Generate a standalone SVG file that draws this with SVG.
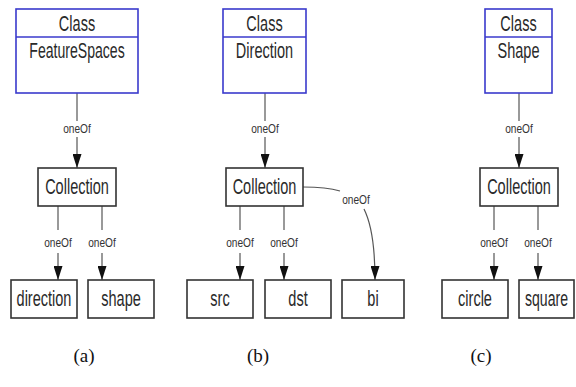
<svg xmlns="http://www.w3.org/2000/svg" width="576" height="387" viewBox="0 0 576 387">
<style>
.cls{fill:#fff;stroke:#3a3acc;stroke-width:1.6}
.box{fill:#fff;stroke:#333;stroke-width:1.6}
.t{font-family:"Liberation Sans",Arial,sans-serif;font-size:22px;fill:#2a2a2a;text-anchor:middle}
.e{font-family:"Liberation Sans",Arial,sans-serif;font-size:13px;fill:#333;text-anchor:middle}
.ln{fill:none;stroke:#555;stroke-width:1.2}
.cap{font-family:"Liberation Serif","Times New Roman",serif;font-size:19px;fill:#111;text-anchor:middle}
</style>
<defs>
<marker id="ah" markerUnits="userSpaceOnUse" markerWidth="14" markerHeight="9" refX="14" refY="4.5" orient="auto">
<path d="M0,0 L14,4.5 L0,9 z" fill="#111"/>
</marker>
</defs>
<rect width="576" height="387" fill="#fff"/>
<g id="connectors">
<line class="ln" x1="77" y1="93" x2="77" y2="121"/>
<line class="ln" x1="77" y1="137" x2="77" y2="168" marker-end="url(#ah)"/>
<line class="ln" x1="58" y1="206" x2="58" y2="230"/>
<line class="ln" x1="58" y1="253" x2="58" y2="280" marker-end="url(#ah)"/>
<line class="ln" x1="102" y1="206" x2="102" y2="230"/>
<line class="ln" x1="102" y1="253" x2="102" y2="280" marker-end="url(#ah)"/>
<line class="ln" x1="265" y1="93" x2="265" y2="121"/>
<line class="ln" x1="265" y1="137" x2="265" y2="168" marker-end="url(#ah)"/>
<line class="ln" x1="240" y1="206" x2="240" y2="230"/>
<line class="ln" x1="240" y1="253" x2="240" y2="280" marker-end="url(#ah)"/>
<line class="ln" x1="284" y1="206" x2="284" y2="230"/>
<line class="ln" x1="284" y1="253" x2="284" y2="280" marker-end="url(#ah)"/>
<path class="ln" d="M303,187 C318,187 330,188 340,191"/>
<path class="ln" d="M364,209 C372,225 375,248 375,280" marker-end="url(#ah)"/>
<line class="ln" x1="519" y1="93" x2="519" y2="121"/>
<line class="ln" x1="519" y1="137" x2="519" y2="168" marker-end="url(#ah)"/>
<line class="ln" x1="494" y1="206" x2="494" y2="230"/>
<line class="ln" x1="494" y1="253" x2="494" y2="280" marker-end="url(#ah)"/>
<line class="ln" x1="538" y1="206" x2="538" y2="230"/>
<line class="ln" x1="538" y1="253" x2="538" y2="280" marker-end="url(#ah)"/>
<text class="e" transform="translate(77,133) scale(0.78,1)">oneOf</text>
<text class="e" transform="translate(58,247) scale(0.78,1)">oneOf</text>
<text class="e" transform="translate(102,247) scale(0.78,1)">oneOf</text>
<text class="e" transform="translate(265,133) scale(0.78,1)">oneOf</text>
<text class="e" transform="translate(240,247) scale(0.78,1)">oneOf</text>
<text class="e" transform="translate(284,247) scale(0.78,1)">oneOf</text>
<text class="e" transform="translate(356,204) scale(0.78,1)">oneOf</text>
<text class="e" transform="translate(519,133) scale(0.78,1)">oneOf</text>
<text class="e" transform="translate(494,247) scale(0.78,1)">oneOf</text>
<text class="e" transform="translate(538,247) scale(0.78,1)">oneOf</text>
</g>
<g id="classFeatureSpaces">
<rect class="cls" x="16" y="9" width="122" height="84"/>
<line class="cls" x1="16" y1="37" x2="138" y2="37"/>
<text class="t" transform="translate(77,31) scale(0.66,1)">Class</text>
<text class="t" transform="translate(77,58) scale(0.64,1)">FeatureSpaces</text>
</g>
<g id="collectionA">
<rect class="box" x="38" y="168" width="78" height="38"/>
<text class="t" transform="translate(77,194) scale(0.66,1)">Collection</text>
</g>
<g id="direction">
<rect class="box" x="11" y="280" width="66" height="38"/>
<text class="t" transform="translate(44,306) scale(0.66,1)">direction</text>
</g>
<g id="shape">
<rect class="box" x="88" y="280" width="66" height="38"/>
<text class="t" transform="translate(121,306) scale(0.66,1)">shape</text>
</g>
<g id="classDirection">
<rect class="cls" x="223" y="9" width="83" height="84"/>
<line class="cls" x1="223" y1="37" x2="306" y2="37"/>
<text class="t" transform="translate(264.5,31) scale(0.66,1)">Class</text>
<text class="t" transform="translate(264.5,58) scale(0.66,1)">Direction</text>
</g>
<g id="collectionB">
<rect class="box" x="226" y="168" width="77" height="38"/>
<text class="t" transform="translate(264.5,194) scale(0.66,1)">Collection</text>
</g>
<g id="src">
<rect class="box" x="187" y="280" width="66" height="38"/>
<text class="t" transform="translate(220,306) scale(0.66,1)">src</text>
</g>
<g id="dst">
<rect class="box" x="265" y="280" width="66" height="38"/>
<text class="t" transform="translate(298,306) scale(0.66,1)">dst</text>
</g>
<g id="bi">
<rect class="box" x="342" y="280" width="62" height="38"/>
<text class="t" transform="translate(373,306) scale(0.66,1)">bi</text>
</g>
<g id="classShape">
<rect class="cls" x="485" y="9" width="67" height="84"/>
<line class="cls" x1="485" y1="37" x2="552" y2="37"/>
<text class="t" transform="translate(518.5,31) scale(0.66,1)">Class</text>
<text class="t" transform="translate(518.5,58) scale(0.66,1)">Shape</text>
</g>
<g id="collectionC">
<rect class="box" x="480" y="168" width="78" height="38"/>
<text class="t" transform="translate(519,194) scale(0.66,1)">Collection</text>
</g>
<g id="circle">
<rect class="box" x="442" y="280" width="66" height="38"/>
<text class="t" transform="translate(475,306) scale(0.66,1)">circle</text>
</g>
<g id="square">
<rect class="box" x="519" y="280" width="55" height="38"/>
<text class="t" transform="translate(546.5,306) scale(0.64,1)">square</text>
</g>
<g id="captions">
<text class="cap" x="84" y="362">(a)</text>
<text class="cap" x="258" y="362">(b)</text>
<text class="cap" x="481" y="362">(c)</text>
</g>
</svg>
